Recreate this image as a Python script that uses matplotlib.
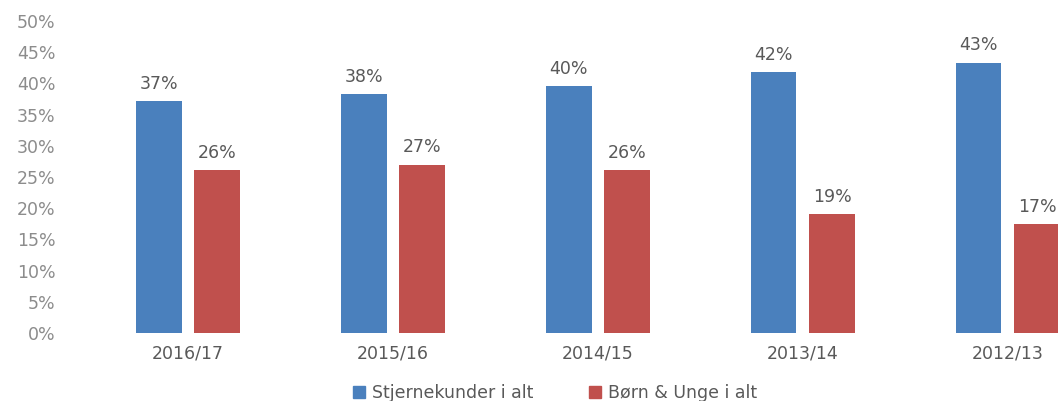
import matplotlib.pyplot as plt
import numpy as np
from matplotlib.patches import Patch

plt.rcParams["font.family"] = ["DejaVu Sans"]

# data
perioder = ["2016/17", "2015/16", "2014/15", "2013/14", "2012/13"]
stjernekunder = [37.1, 38.3, 39.6, 41.8, 43.3]
born_unge = [26.1, 27.0, 26.1, 19.0, 17.4]
serie_navne = ["Stjernekunder i alt", "Børn & Unge i alt"]
y_ticks = [0, 5, 10, 15, 20, 25, 30, 35, 40, 45, 50]

blaa = "#4A80BD"
roed = "#C0504D"

fig = plt.figure(figsize=(10.58, 4.01), dpi=100)
ax = fig.add_axes([65 / 1058, 68 / 401, 1 - 65 / 1058, (333 - 21) / 401])

x = np.arange(len(perioder))
bredde = 0.224
off = 0.143

b1 = ax.bar(x - off, stjernekunder, bredde, color=blaa)
b2 = ax.bar(x + off, born_unge, bredde, color=roed)

for bars, vals in [(b1, stjernekunder), (b2, born_unge)]:
    for b, v in zip(bars, vals):
        ax.annotate(f"{round(v)}%", (b.get_x() + b.get_width() / 2, v),
                    xytext=(0, 6), textcoords="offset points",
                    ha="center", va="bottom", fontsize=12.5, color="#595959")

ax.set_xlim(-0.6, 4.245)
ax.set_ylim(0, 50)
ax.set_yticks(y_ticks)
ax.set_yticklabels([f"{t}%" for t in y_ticks], fontsize=12.5, color="#8c8c8c")
ax.set_xticks(x)
ax.set_xticklabels(perioder, fontsize=12.5, color="#595959")
ax.tick_params(axis="y", length=0, pad=7)
ax.tick_params(axis="x", length=0, pad=8)
for s in ax.spines.values():
    s.set_visible(False)

handles = [Patch(color=blaa), Patch(color=roed)]
fig.legend(handles, serie_navne, loc="center", bbox_to_anchor=(555 / 1058, 1 - 393 / 401),
           ncol=2, frameon=False, fontsize=12.5, labelcolor="#595959",
           handlelength=0.7, handleheight=0.7, handletextpad=0.4, columnspacing=3.2)

plt.savefig("out.png", dpi=100)
